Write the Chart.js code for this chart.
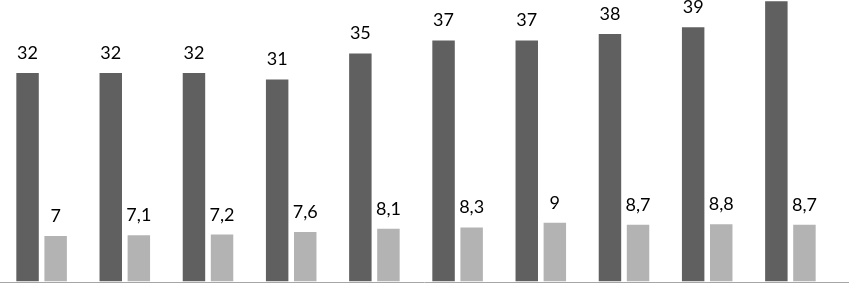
<!DOCTYPE html>
<html>
<head>
<meta charset="utf-8">
<script src="https://cdn.jsdelivr.net/npm/chart.js@4"></script>
<style>
  html, body { margin: 0; padding: 0; background: #fff; }
  #wrap { width: 849px; height: 283px; }
</style>
</head>
<body>
<div id="wrap"><canvas id="bars"></canvas></div>
<script>
// values
const labels = ["1", "2", "3", "4", "5", "6", "7", "8", "9", "10"];
const darkValues = [32, 32, 32, 31, 35, 37, 37, 38, 39, 43];
const lightValues = [7, 7.1, 7.2, 7.6, 8.1, 8.3, 9, 8.7, 8.8, 8.7];

// labels above each bar, with a decimal comma
const valueLabels = {
    id: "valueLabels",
    afterDatasetsDraw(chart) {
        let ctx = chart.ctx
        ctx.save()
        ctx.font = "18px Lato"
        ctx.fillStyle = "#000"
        ctx.textAlign = "center"
        ctx.textBaseline = "alphabetic"
        chart.data.datasets.forEach(function(ds, i) {
            let meta = chart.getDatasetMeta(i)
            meta.data.forEach(function(bar, j) {
                let txt = String(ds.data[j]).replace(".", ",")
                ctx.fillText(txt, bar.x, bar.y - 14)
            })
        })
        ctx.restore()
    }
}

// the base line runs across the whole picture
const baseLine = {
    id: "baseLine",
    afterDraw(chart) {
        let ctx = chart.ctx
        let y = Math.round(chart.chartArea.bottom) + 0.5
        ctx.save()
        ctx.strokeStyle = "#a6a6a6"
        ctx.lineWidth = 1
        ctx.beginPath()
        ctx.moveTo(0, y)
        ctx.lineTo(chart.width, y)
        ctx.stroke()
        ctx.restore()
    }
}

let barChart = new Chart(document.getElementById("bars"), {
    type: "bar",
    data: {
        labels: labels,
        datasets: [{
            data: darkValues,
            backgroundColor: "#606060",
            categoryPercentage: 0.675,
            barPercentage: 0.8
        }, {
            data: lightValues,
            backgroundColor: "#b3b3b3",
            categoryPercentage: 0.675,
            barPercentage: 0.8
        }]
    },
    options: {
        responsive: true,
        maintainAspectRatio: false,
        animation: false,
        layout: {
            padding: {left: 0, right: 17, top: 0, bottom: 0}
        },
        plugins: {
            legend: {display: false},
            tooltip: {enabled: false}
        },
        scales: {
            x: {
                grid: {display: false},
                ticks: {display: false},
                border: {display: false},
                afterFit: function(scale) { scale.height = 1.5 }
            },
            y: {
                display: false,
                min: 0,
                max: 43.2
            }
        }
    },
    plugins: [valueLabels, baseLine]
})
</script>
</body>
</html>
